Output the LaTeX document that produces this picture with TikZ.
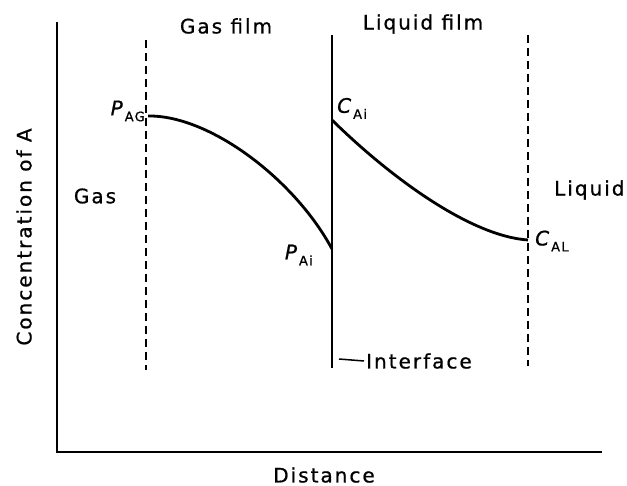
\documentclass[tikz,border=0pt]{standalone}
\usepackage{fontspec}
\setmainfont{DejaVu Sans}[LetterSpace=10, FakeBold=0.8]
\usetikzlibrary{positioning}
\newcommand{\conc}[2]{\textit{#1}\raisebox{-0.55ex}{\fontsize{13}{13}\selectfont #2}}

\begin{document}
\begin{tikzpicture}[x=1pt, y=-1pt,
        axis/.style={line width=2.2pt},
        film/.style={line width=2.2pt, dash pattern=on 8pt off 5pt},
        profile/.style={line width=2.8pt},
        lbl/.style={font=\fontsize{20}{22}\selectfont, inner sep=0pt},
        sym/.style={font=\fontsize{20}{22}\selectfont, inner sep=0pt}
        ]
        \useasboundingbox (0,0) rectangle (627,486);
        % axes
        \coordinate (ytop) at (57,22);
        \coordinate (origin) at (57,452);
        \coordinate (xend) at (602,452);
        \draw[axis] (ytop) -- (origin) -- (xend);
        % film boundaries and interface
        \coordinate (gtop) at (146,40);
        \coordinate (gbot) at (146,370);
        \coordinate (itop) at (332,35);
        \coordinate (ibot) at (332,368);
        \coordinate (ltop) at (528,35);
        \coordinate (lbot) at (528,366);
        \draw[film] (gtop) -- (gbot);
        \draw[axis] (itop) -- (ibot);
        \draw[film] (ltop) -- (lbot);
        % concentration profiles
        \coordinate (pag) at (148,116);
        \coordinate (pai) at (332,249);
        \coordinate (cai) at (332,120);
        \coordinate (cal) at (528,240);
        \draw[profile] (pag) .. controls (210,115) and (295,180) .. (pai);
        \draw[profile] (cai) .. controls (390,177) and (470,236) .. (cal);
        % labels
        \node[lbl] (gasfilm) at (226,26) {Gas film};
        \node[lbl] (liqfilm) at (423,24) {Liquid film};
        \node[lbl] (gas) at (95,196) {Gas};
        \node[lbl, anchor=west] (liquid) at (554,190) {Liquid};
        \node[sym, left=3pt of pag, yshift=5pt] (pagl) {\conc{P}{AG}};
        \node[sym, above right=1pt and 5pt of cai] (cail) {\conc{C}{Ai}};
        \node[sym, left=19pt of pai, yshift=-6pt] (pail) {\conc{P}{Ai}};
        \node[sym, right=7pt of cal, yshift=-1pt] (call) {\conc{C}{AL}};
        \coordinate (ilead) at (339,359);
        \node[lbl, anchor=west, inner sep=2pt] (iface) at (364,361) {Interface};
        \draw[line width=1.5pt] (ilead) -- (iface.west);
        \node[lbl] (xlabel) at (324,475) {Distance};
        \node[lbl, rotate=90] (ylabel) at (24,237) {Concentration of A};
\end{tikzpicture}
\end{document}
